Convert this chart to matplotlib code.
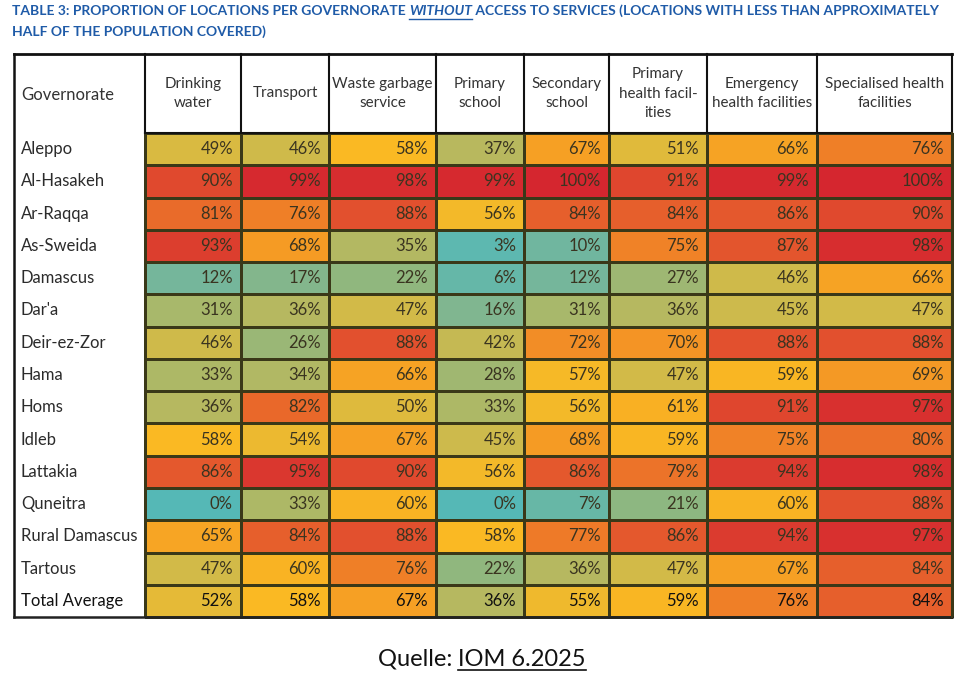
import matplotlib
matplotlib.use("Agg")
import matplotlib.pyplot as plt
import numpy as np
from matplotlib.colors import LinearSegmentedColormap, Normalize

GOVERNORATES = [
    "Aleppo", "Al-Hasakeh", "Ar-Raqqa", "As-Sweida", "Damascus", "Dar'a",
    "Deir-ez-Zor", "Hama", "Homs", "Idleb", "Lattakia", "Quneitra",
    "Rural Damascus", "Tartous", "Total Average",
]
SERVICES = [
    "Drinking\nwater", "Transport", "Waste garbage\nservice", "Primary\nschool",
    "Secondary\nschool", "Primary\nhealth facil-\nities", "Emergency\nhealth facilities",
    "Specialised health\nfacilities",
]
drinking_water = [49, 90, 81, 93, 12, 31, 46, 33, 36, 58, 86, 0, 65, 47, 52]
transport = [46, 99, 76, 68, 17, 36, 26, 34, 82, 54, 95, 33, 84, 60, 58]
waste_garbage = [58, 98, 88, 35, 22, 47, 88, 66, 50, 67, 90, 60, 88, 76, 67]
primary_school = [37, 99, 56, 3, 6, 16, 42, 28, 33, 45, 56, 0, 58, 22, 36]
secondary_school = [67, 100, 84, 10, 12, 31, 72, 57, 56, 68, 86, 7, 77, 36, 55]
primary_health = [51, 91, 84, 75, 27, 36, 70, 47, 61, 59, 79, 21, 86, 47, 59]
emergency_health = [66, 99, 86, 87, 46, 45, 88, 59, 91, 75, 94, 60, 94, 67, 76]
specialised_health = [76, 100, 90, 98, 66, 47, 88, 69, 97, 80, 98, 88, 97, 84, 84]

TITLE_PARTS = [
    "TABLE 3: PROPORTION OF LOCATIONS PER GOVERNORATE ",
    "WITHOUT",
    " ACCESS TO SERVICES (LOCATIONS WITH LESS THAN APPROXIMATELY",
]
TITLE_LINE2 = "HALF OF THE POPULATION COVERED)"
SOURCE_PARTS = ["Quelle: ", "IOM 6.2025"]

# layout in pixels
COL_EDGES = [145, 241, 329, 436, 524, 609, 707, 817, 952]
TABLE_LEFT = 14
HEADER_TOP = 54
BODY_TOP = 133
ROW_H = 32.27

TITLE_BLUE = "#1f5ba8"
FAMILY = ["Lato", "DejaVu Sans"]

cmap = LinearSegmentedColormap.from_list("access", [
    (0.00, "#55b8b6"), (0.12, "#76b69a"), (0.22, "#90b77e"), (0.35, "#b3b862"),
    (0.47, "#d2ba48"), (0.58, "#fab923"), (0.67, "#f6a024"), (0.76, "#ef7f27"),
    (0.88, "#e2512e"), (1.00, "#d5262f"),
])

values = np.array([drinking_water, transport, waste_garbage, primary_school,
                   secondary_school, primary_health, emergency_health,
                   specialised_health], dtype=float).T

fig = plt.figure(figsize=(9.68, 6.79), dpi=100)
ax = fig.add_axes([0, 0, 1, 1])
ax.set_xlim(0, 968)
ax.set_ylim(679, 0)
ax.axis("off")
renderer = fig.canvas.get_renderer()


def fit_size(text, target, **kw):
    probe = ax.text(0, 0, text, family=FAMILY, fontsize=10, **kw)
    w = probe.get_window_extent(renderer).width
    probe.remove()
    return 10 * target / w


body_size = min(fit_size("Rural Damascus", 116), 12.5)
head_size = min(fit_size("Specialised health", 126), fit_size("Waste garbage", 100),
                fit_size("health facilities", 104), body_size)

n_rows = len(GOVERNORATES)
y_edges = BODY_TOP + ROW_H * np.arange(n_rows + 1)
body_bottom = y_edges[-1]

ax.pcolormesh(COL_EDGES, y_edges, values, cmap=cmap, norm=Normalize(0, 100),
              edgecolors="#3a3818", linewidth=0.8)

# cell labels
for r, name in enumerate(GOVERNORATES):
    yc = (y_edges[r] + y_edges[r + 1]) / 2
    last = r == n_rows - 1
    ax.text(21, yc, name, ha="left", va="center", family=FAMILY,
            fontsize=body_size, color="#111111" if last else "#2b2b2b")
    for c in range(values.shape[1]):
        ax.text(COL_EDGES[c + 1] - 8, yc, f"{values[r, c]:.0f}%", ha="right",
                va="center", family=FAMILY, fontsize=body_size,
                color="#111111" if last else "#3a3420")

# header
header_mid = (HEADER_TOP + BODY_TOP) / 2
ax.text(21, header_mid + 2, "Governorate", ha="left", va="center",
        family=FAMILY, fontsize=body_size, color="#333333")
for c, label in enumerate(SERVICES):
    xc = (COL_EDGES[c] + COL_EDGES[c + 1]) / 2
    ax.text(xc, header_mid, label, ha="center", va="center", family=FAMILY,
            fontsize=head_size, color="#333333", linespacing=1.5)

# frame lines
ax.plot([TABLE_LEFT, COL_EDGES[-1]], [HEADER_TOP, HEADER_TOP], color="#111111", lw=2)
ax.plot([COL_EDGES[0], COL_EDGES[-1]], [BODY_TOP, BODY_TOP], color="#111111", lw=1.5)
ax.plot([TABLE_LEFT, TABLE_LEFT], [HEADER_TOP, body_bottom], color="#111111", lw=1.8)
ax.plot([TABLE_LEFT, COL_EDGES[-1]], [body_bottom, body_bottom], color="#222222", lw=1.8)
for x in COL_EDGES:
    ax.plot([x, x], [HEADER_TOP, BODY_TOP], color="#111111", lw=1.5)
ax.plot([COL_EDGES[-1], COL_EDGES[-1]], [BODY_TOP, body_bottom], color="#3a3818", lw=1.5)

# title with underlined italic word, sized to span the table width
title_size = fit_size("".join(TITLE_PARTS), 932, fontweight="bold")
x = 12
for i, part in enumerate(TITLE_PARTS):
    t = ax.text(x, 11, part, ha="left", va="center", family=FAMILY,
                fontweight="bold", style="italic" if i == 1 else "normal",
                fontsize=title_size, color=TITLE_BLUE)
    width = t.get_window_extent(renderer).width
    if i == 1:
        ax.plot([x, x + width], [19, 19], color=TITLE_BLUE, lw=1)
    x += width
ax.text(12, 32, TITLE_LINE2, ha="left", va="center", family=FAMILY,
        fontweight="bold", fontsize=title_size, color=TITLE_BLUE)

# source
src_size = fit_size("".join(SOURCE_PARTS), 207)
pieces = [ax.text(0, 659, s, ha="left", va="center", family=FAMILY,
                  fontsize=src_size, color="#111111") for s in SOURCE_PARTS]
widths = [p.get_window_extent(renderer).width for p in pieces]
start = 482 - sum(widths) / 2
pieces[0].set_x(start)
pieces[1].set_x(start + widths[0])
ax.plot([start + widths[0], start + sum(widths)], [670, 670], color="#111111", lw=1.2)

fig.savefig("out.png", dpi=100)
